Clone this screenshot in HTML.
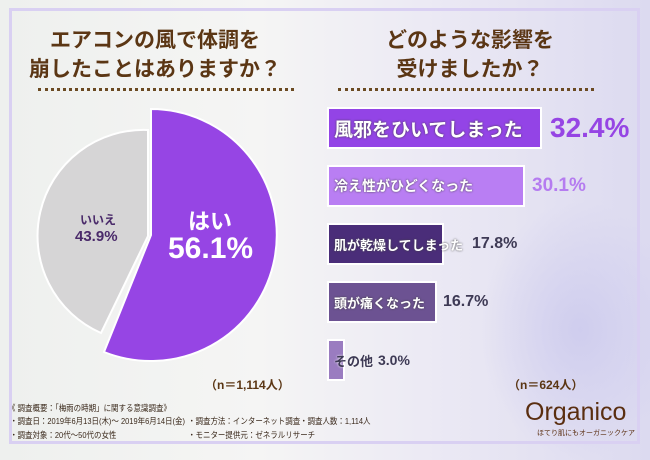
<!DOCTYPE html><html><head><meta charset="utf-8"><style>
body{margin:0;width:650px;height:450px;overflow:hidden;position:relative;font-family:"Liberation Sans","Noto Sans CJK JP",sans-serif;
background:linear-gradient(90deg,#eef0ee 0%,#f5f5f4 40%,#eceaf4 65%,#dcdaf0 100%);}
.frame{position:absolute;left:9px;top:8px;width:625px;height:430px;border:3px solid #d9d0f2;}
.t{position:absolute;color:#5b3614;font-weight:bold;font-size:21px;text-align:center;line-height:29px;}
.dots{position:absolute;height:0;border-top:3px dotted #6b4a22;}
.bar{position:absolute;left:327px;border:2px solid #fff;box-sizing:border-box;color:#fff;font-weight:bold;display:flex;align-items:center;padding-left:5px;white-space:nowrap;text-shadow:0 0 2px #444}
.v{position:absolute;font-weight:bold;white-space:nowrap}
.s{font-size:8.5px;color:#3b2a1c;position:absolute;white-space:nowrap;transform:scaleX(0.88);transform-origin:left}
.glow{position:absolute;border-radius:50%;}
</style></head><body>
<div class="glow" style="left:480px;top:200px;width:200px;height:260px;background:radial-gradient(#cfcdee,rgba(220,218,240,0) 70%)"></div>
<div class="frame"></div>
<div class="t" style="left:20px;top:26px;width:270px">エアコンの風で体調を<br>崩したことはありますか？</div>
<div class="dots" style="left:38px;top:88px;width:256px"></div>
<div class="t" style="left:335px;top:26px;width:270px">どのような影響を<br>受けましたか？</div>
<div class="dots" style="left:338px;top:88px;width:256px"></div>
<svg style="position:absolute;left:0;top:0" width="650" height="450">
<path d="M148,236 L101,333 A106,106 0 0 1 148,130 Z" fill="#d6d5d6" stroke="#fff" stroke-width="2"/>
<path d="M151,235 L151,109 A126,126 0 1 1 104,352 Z" fill="#9645e4" stroke="#fff" stroke-width="2"/>
</svg>
<div class="v" style="left:188px;top:204px;font-size:22px;color:#fff">はい</div>
<div class="v" style="left:168px;top:232px;font-size:30px;color:#fff">56.1%</div>
<div class="v" style="left:80px;top:211px;font-size:12px;color:#4a2a6a">いいえ</div>
<div class="v" style="left:75px;top:228px;font-size:15px;color:#4a2a6a">43.9%</div>
<div class="bar" style="top:107px;width:215px;height:42px;background:#9344e6;font-size:19px">風邪をひいてしまった</div>
<div class="v" style="left:550px;top:112px;font-size:28px;color:#9645e4">32.4%</div>
<div class="bar" style="top:165px;width:198px;height:42px;background:#b97ef3;font-size:14px">冷え性がひどくなった</div>
<div class="v" style="left:532px;top:175px;font-size:19px;color:#b57cf0">30.1%</div>
<div class="bar" style="top:223px;width:117px;height:42px;background:#4a2d79;font-size:13px;overflow:visible">肌が乾燥してしまった</div>
<div class="v" style="left:472px;top:235px;font-size:16px;color:#3e3a55">17.8%</div>
<div class="bar" style="top:281px;width:110px;height:42px;background:#6c5292;font-size:13px;overflow:visible">頭が痛くなった</div>
<div class="v" style="left:443px;top:293px;font-size:16px;color:#3e3a55">16.7%</div>
<div class="bar" style="top:339px;width:18px;height:42px;background:#9a7cc0;font-size:13px;overflow:visible;color:#3e3a55;text-shadow:0 0 2px #fff">その他</div>
<div class="v" style="left:378px;top:352px;font-size:14px;color:#3e3a55">3.0%</div>
<div class="v" style="left:205px;top:376px;font-size:12px;color:#5b3614">（n＝1,114人）</div>
<div class="v" style="left:508px;top:376px;font-size:12px;color:#5b3614">（n＝624人）</div>
<div class="s" style="left:8px;top:402px">《 調査概要：「梅雨の時期」に関する意識調査》</div>
<div class="s" style="left:10px;top:415px">・調査日：2019年6月13日(木)～ 2019年6月14日(金)</div>
<div class="s" style="left:188px;top:415px">・調査方法：インターネット調査</div>
<div class="s" style="left:300px;top:415px">・調査人数：1,114人</div>
<div class="s" style="left:10px;top:429px">・調査対象：20代～50代の女性</div>
<div class="s" style="left:188px;top:429px">・モニター提供元：ゼネラルリサーチ</div>
<div class="v" style="left:525px;top:398px;font-size:25px;color:#5a2e10;font-weight:normal">Organico</div>
<div class="v" style="left:537px;top:428px;font-size:7px;color:#5a2e10;font-weight:normal">ほてり肌にもオーガニックケア</div>
</body></html>
